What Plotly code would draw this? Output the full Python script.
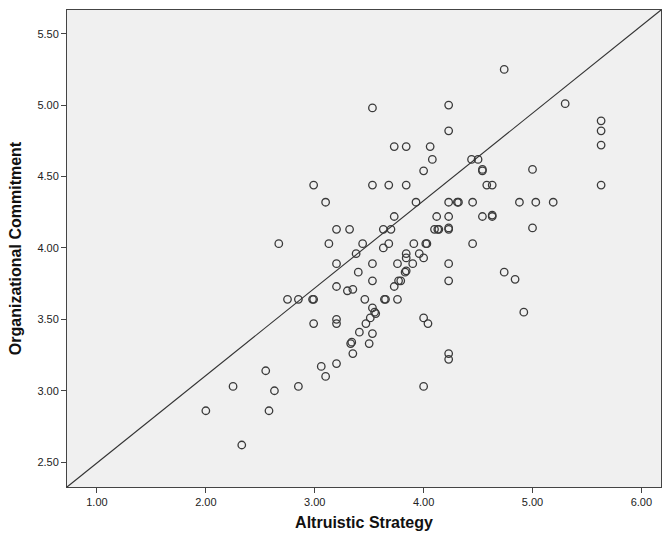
import plotly.graph_objects as go

# Altruistic Strategy (x) and Organizational Commitment (y)
altruistic = [
    2.00, 2.25, 2.33, 2.55, 2.63, 2.58, 2.67, 2.75, 2.85, 2.85,
    2.99, 2.99, 2.98, 2.99, 3.06, 3.10, 3.10, 3.13, 3.20, 3.20,
    3.20, 3.20, 3.20, 3.20, 3.30, 3.32, 3.35, 3.33, 3.34, 3.35,
    3.38, 3.40, 3.41, 3.44, 3.46, 3.47, 3.50, 3.51, 3.53, 3.53,
    3.53, 3.53, 3.53, 3.55, 3.56, 3.53, 3.63, 3.63, 3.64, 3.65,
    3.68, 3.68, 3.70, 3.73, 3.73, 3.73, 3.76, 3.76, 3.77, 3.79,
    3.84, 3.84, 3.84, 3.84, 3.83, 3.84, 3.90, 3.91, 3.93, 3.96,
    4.00, 4.00, 4.00, 4.04, 4.00, 4.02, 4.03, 4.06, 4.08, 4.10,
    4.12, 4.13, 4.14, 4.23, 4.23, 4.23, 4.23, 4.23, 4.23, 4.23,
    4.23, 4.23, 4.23, 4.31, 4.32, 4.44, 4.50, 4.45, 4.45, 4.54,
    4.54, 4.54, 4.58, 4.63, 4.63, 4.63, 4.74, 4.74, 4.84, 4.88,
    4.92, 5.00, 5.00, 5.03, 5.19, 5.30, 5.63, 5.63, 5.63, 5.63,
]
commitment = [
    2.86, 3.03, 2.62, 3.14, 3.00, 2.86, 4.03, 3.64, 3.64, 3.03,
    4.44, 3.64, 3.64, 3.47, 3.17, 3.10, 4.32, 4.03, 4.13, 3.89,
    3.73, 3.50, 3.47, 3.19, 3.70, 4.13, 3.71, 3.33, 3.34, 3.26,
    3.96, 3.83, 3.41, 4.03, 3.64, 3.47, 3.33, 3.51, 4.98, 4.44,
    3.89, 3.77, 3.58, 3.55, 3.54, 3.40, 4.13, 4.00, 3.64, 3.64,
    4.44, 4.03, 4.13, 4.71, 4.22, 3.73, 3.89, 3.64, 3.77, 3.77,
    4.71, 4.44, 3.96, 3.93, 3.83, 3.84, 3.89, 4.03, 4.32, 3.96,
    4.54, 3.93, 3.51, 3.47, 3.03, 4.03, 4.03, 4.71, 4.62, 4.13,
    4.22, 4.13, 4.13, 5.00, 4.82, 4.32, 4.22, 4.13, 4.14, 3.89,
    3.77, 3.26, 3.22, 4.32, 4.32, 4.62, 4.62, 4.32, 4.03, 4.54,
    4.55, 4.22, 4.44, 4.44, 4.22, 4.23, 5.25, 3.83, 3.78, 4.32,
    3.55, 4.55, 4.14, 4.32, 4.32, 5.01, 4.89, 4.82, 4.72, 4.44,
]

x_ticks = [1.0, 2.0, 3.0, 4.0, 5.0, 6.0]
y_ticks = [2.5, 3.0, 3.5, 4.0, 4.5, 5.0, 5.5]
x_range = [0.725, 6.18]
y_range = [2.326, 5.666]

fig = go.Figure()
fig.add_trace(go.Scatter(
    x=altruistic, y=commitment, mode="markers",
    marker=dict(symbol="circle-open", size=7.5, color="#3a3a3a",
                line=dict(width=1.3, color="#3a3a3a")),
    showlegend=False, hoverinfo="x+y",
))

# diagonal reference line across the plot area
fig.add_shape(type="line", xref="paper", yref="paper", x0=0, y0=0, x1=1, y1=1,
              line=dict(color="#333333", width=1.1))

font_family = "Liberation Sans, Arial, sans-serif"
axis_common = dict(
    showgrid=False, zeroline=False, showline=True, linecolor="#444444",
    linewidth=1, mirror=True, ticks="outside", ticklen=5, tickcolor="#444444",
    tickwidth=1, tickformat=".2f", automargin=False,
    tickfont=dict(family=font_family, size=11, color="#222222"),
)

fig.update_layout(
    width=663, height=540,
    margin=dict(l=67, r=2, t=10, b=53),
    paper_bgcolor="white", plot_bgcolor="#f0f0f0",
    font=dict(family=font_family),
    xaxis=dict(range=x_range, tickvals=x_ticks, **axis_common,
               title=dict(text="<b>Altruistic Strategy</b>", standoff=9,
                          font=dict(family=font_family, size=16, color="#111111"))),
    yaxis=dict(range=y_range, tickvals=y_ticks, **axis_common,
               title=dict(text="<b>Organizational Commitment</b>", standoff=11,
                          font=dict(family=font_family, size=16, color="#111111"))),
)

fig.write_html("out.html",
               config={"displayModeBar": False},
               post_script="document.body.style.margin='0';document.body.style.overflow='hidden';")
